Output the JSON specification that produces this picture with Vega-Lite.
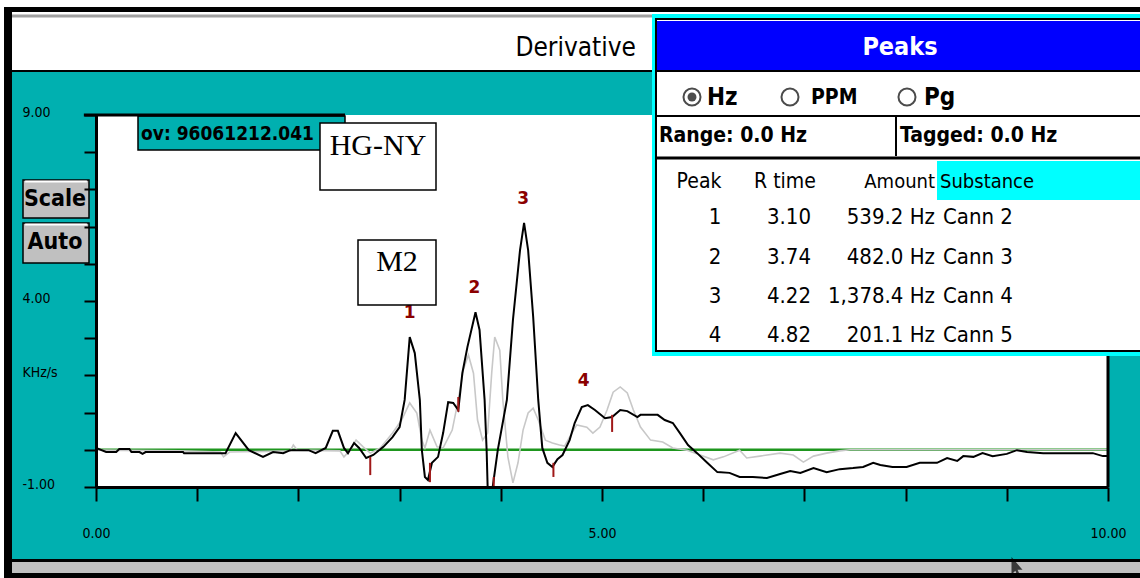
{
"$schema": "https://vega.github.io/schema/vega-lite/v6.json",
"width": 1012, "height": 372,
"autosize": {"type": "none"},
"padding": {"left": 96, "top": 115, "right": 32, "bottom": 91},
"background": "white",
"config": {"view": {"stroke": null}},
"datasets": {
 "peaks": [
  {"peak": 1, "rtime": 3.10, "amount": 539.2, "substance": "Cann 2", "apex": 3.03},
  {"peak": 2, "rtime": 3.74, "amount": 482.0, "substance": "Cann 3", "apex": 3.70},
  {"peak": 3, "rtime": 4.22, "amount": 1378.4, "substance": "Cann 4", "apex": 6.10},
  {"peak": 4, "rtime": 4.82, "amount": 201.1, "substance": "Cann 5", "apex": 1.20}
 ]
},
"data": {"values": [{}]},
"layer": [
  {"data": {"values": [{"t": 0, "v": -1}, {"t": 10, "v": 9}]},
   "mark": {"type": "point", "opacity": 0},
   "encoding": {
    "x": {"field": "t", "type": "quantitative", "scale": {"domain": [0, 10], "nice": false, "zero": false},
      "axis": {"title": null, "values": [0,1,2,3,4,5,6,7,8,9,10], "tickCount": 40, "grid": false, "zindex": 1, "tickSize": 14, "tickWidth": 2, "tickColor": "black", "domainColor": "black", "domainWidth": 3, "labelExpr": "datum.value==0?'0.00':datum.value==5?'5.00':datum.value==10?'10.00':''", "labelFont": "DejaVu Sans Condensed, sans-serif", "labelFontSize": 14, "labelColor": "black", "labelBaseline": "middle", "labelPadding": 32, "labelOverlap": false, "labelFlush": false}},
    "y": {"field": "v", "type": "quantitative", "scale": {"domain": [-1, 9], "nice": false, "zero": false},
      "axis": {"title": null, "values": [-1,0,1,2,3,4,5,6,7,8,9], "tickCount": 40, "grid": false, "zindex": 1, "tickSize": 12, "tickWidth": 2, "tickColor": "black", "domainColor": "black", "domainWidth": 3, "labelExpr": "datum.value==9?'9.00':datum.value==4?'4.00':datum.value==-1?'-1.00':datum.value==2?'KHz/s':''", "labelFont": "DejaVu Sans Condensed, sans-serif", "labelFontSize": 14, "labelColor": "black", "labelAlign": "left", "labelBaseline": "middle", "labelPadding": 62, "labelOverlap": false, "labelFlush": false, "labelOffset": -3}}
   }},
  {"mark": {"type": "rect", "fill": "black"}, "encoding": {"x": {"datum": -0.909}, "x2": {"datum": 10.4}, "y": {"datum": 11.903}, "y2": {"datum": 11.769}}},
  {"mark": {"type": "rect", "fill": "black"}, "encoding": {"x": {"datum": -0.909}, "x2": {"datum": -0.83}, "y": {"datum": 11.903}, "y2": {"datum": -3.6}}},
  {"mark": {"type": "rule", "color": "#a0a0a0", "strokeWidth": 3}, "encoding": {"x": {"datum": -0.83}, "x2": {"datum": 5.494}, "y": {"datum": 11.661}}},
  {"mark": {"type": "rule", "color": "black", "strokeWidth": 2}, "encoding": {"x": {"datum": -0.83}, "x2": {"datum": 5.494}, "y": {"datum": 10.183}}},
  {"mark": {"type": "rect", "fill": "#00b0b0"}, "encoding": {"x": {"datum": -0.83}, "x2": {"datum": 10.4}, "y": {"datum": 10.156}, "y2": {"datum": -2.962}}},
  {"mark": {"type": "rect", "fill": "black"}, "encoding": {"x": {"datum": -0.909}, "x2": {"datum": 10.4}, "y": {"datum": -2.935}, "y2": {"datum": -3.6}}},
  {"mark": {"type": "rect", "fill": "#c0c0c0"}, "encoding": {"x": {"datum": -0.83}, "x2": {"datum": 10.4}, "y": {"datum": -3.016}, "y2": {"datum": -3.312}}},
  {"mark": {"type": "rect", "fill": "white"}, "encoding": {"x": {"datum": 0}, "x2": {"datum": 10}, "y": {"datum": -1}, "y2": {"datum": 9}}},
  {"mark": {"type": "rule", "color": "#1e961e", "strokeWidth": 2.5}, "encoding": {"x": {"datum": 0}, "x2": {"datum": 10}, "y": {"datum": 0}}},
  {"data": {"values": [
   {"t":0,"v":-0.01},{"t":0.83,"v":-0.03},{"t":1.23,"v":-0.06},{"t":1.26,"v":-0.19},{"t":1.32,"v":-0.06},{"t":1.92,"v":-0.03},{"t":1.95,"v":0.13},{"t":1.99,"v":-0.01},{"t":2.41,"v":-0.03},{"t":2.45,"v":-0.19},{"t":2.51,"v":-0.01},{"t":2.57,"v":0.26},{"t":2.64,"v":0.08},{"t":2.71,"v":-0.09},{"t":2.81,"v":0.05},{"t":2.93,"v":0.45},{"t":3.02,"v":0.80},{"t":3.10,"v":1.26},{"t":3.17,"v":0.99},{"t":3.22,"v":0.26},{"t":3.25,"v":0.05},{"t":3.30,"v":0.53},{"t":3.37,"v":0.08},{"t":3.43,"v":0.05},{"t":3.52,"v":0.53},{"t":3.58,"v":1.34},{"t":3.63,"v":2.15},{"t":3.68,"v":2.55},{"t":3.73,"v":2.06},{"t":3.77,"v":0.80},{"t":3.82,"v":0.26},{"t":3.87,"v":0.45},{"t":3.91,"v":2.06},{"t":3.94,"v":3.03},{"t":3.99,"v":2.68},{"t":4.02,"v":1.34},{"t":4.07,"v":-0.19},{"t":4.12,"v":-0.89},{"t":4.17,"v":-0.35},{"t":4.22,"v":0.53},{"t":4.27,"v":0.99},{"t":4.32,"v":1.12},{"t":4.37,"v":0.80},{"t":4.44,"v":0.26},{"t":4.51,"v":0.18},{"t":4.58,"v":0.13},{"t":4.63,"v":0.10},{"t":4.68,"v":0.34},{"t":4.75,"v":0.67},{"t":4.85,"v":0.61},{"t":4.91,"v":0.45},{"t":4.98,"v":0.61},{"t":5.05,"v":1.07},{"t":5.11,"v":1.55},{"t":5.18,"v":1.69},{"t":5.25,"v":1.53},{"t":5.31,"v":1.07},{"t":5.38,"v":0.61},{"t":5.48,"v":0.26},{"t":5.60,"v":0.21},{"t":5.70,"v":0.05},{"t":5.84,"v":-0.01},{"t":5.97,"v":-0.14},{"t":6.10,"v":-0.27},{"t":6.20,"v":-0.19},{"t":6.36,"v":-0.01},{"t":6.43,"v":-0.22},{"t":6.56,"v":-0.17},{"t":6.76,"v":-0.09},{"t":6.89,"v":-0.14},{"t":6.99,"v":-0.33},{"t":7.09,"v":-0.17},{"t":7.22,"v":-0.09},{"t":7.35,"v":-0.03},{"t":7.45,"v":0.0},{"t":10,"v":0.0}
  ]},
   "mark": {"type": "line", "color": "#c8c8c8", "strokeWidth": 1.6},
   "encoding": {"x": {"field": "t", "type": "quantitative"}, "y": {"field": "v", "type": "quantitative"}}},
  {"data": {"values": [
   {"t":0,"v":0.05},{"t":0.10,"v":-0.06},{"t":0.20,"v":-0.06},{"t":0.23,"v":0.02},{"t":0.33,"v":0.02},{"t":0.35,"v":-0.06},{"t":0.43,"v":-0.06},{"t":0.46,"v":-0.11},{"t":0.49,"v":-0.06},{"t":0.86,"v":-0.06},{"t":0.87,"v":-0.09},{"t":1.28,"v":-0.09},{"t":1.38,"v":0.45},{"t":1.51,"v":-0.01},{"t":1.65,"v":-0.19},{"t":1.75,"v":-0.06},{"t":1.85,"v":-0.09},{"t":1.92,"v":-0.01},{"t":2.10,"v":-0.01},{"t":2.17,"v":-0.09},{"t":2.27,"v":0.05},{"t":2.34,"v":0.51},{"t":2.39,"v":0.51},{"t":2.45,"v":0.05},{"t":2.49,"v":-0.09},{"t":2.55,"v":0.18},{"t":2.60,"v":0.05},{"t":2.67,"v":-0.22},{"t":2.74,"v":-0.14},{"t":2.84,"v":0.08},{"t":2.93,"v":0.34},{"t":3.00,"v":0.61},{"t":3.05,"v":1.34},{"t":3.10,"v":3.03},{"t":3.15,"v":2.60},{"t":3.20,"v":1.34},{"t":3.22,"v":-0.01},{"t":3.25,"v":-0.73},{"t":3.28,"v":-0.81},{"t":3.32,"v":-0.35},{"t":3.38,"v":-0.19},{"t":3.43,"v":0.45},{"t":3.48,"v":1.28},{"t":3.53,"v":1.26},{"t":3.58,"v":1.07},{"t":3.62,"v":2.06},{"t":3.67,"v":2.76},{"t":3.75,"v":3.70},{"t":3.79,"v":3.22},{"t":3.84,"v":1.34},{"t":3.86,"v":-0.01},{"t":3.87,"v":-1.0},{"t":3.92,"v":-1.0},{"t":3.97,"v":-0.01},{"t":4.06,"v":1.34},{"t":4.12,"v":3.49},{"t":4.19,"v":5.37},{"t":4.23,"v":6.10},{"t":4.27,"v":5.37},{"t":4.32,"v":3.57},{"t":4.37,"v":1.34},{"t":4.41,"v":0.05},{"t":4.46,"v":-0.35},{"t":4.51,"v":-0.46},{"t":4.56,"v":-0.25},{"t":4.61,"v":-0.14},{"t":4.68,"v":0.26},{"t":4.73,"v":0.72},{"t":4.80,"v":1.15},{"t":4.86,"v":1.20},{"t":4.93,"v":1.07},{"t":5.03,"v":0.85},{"t":5.10,"v":0.88},{"t":5.18,"v":1.07},{"t":5.25,"v":1.04},{"t":5.35,"v":0.88},{"t":5.38,"v":0.94},{"t":5.55,"v":0.94},{"t":5.62,"v":0.80},{"t":5.70,"v":0.72},{"t":5.77,"v":0.45},{"t":5.85,"v":0.13},{"t":5.94,"v":-0.09},{"t":6.04,"v":-0.35},{"t":6.14,"v":-0.60},{"t":6.26,"v":-0.62},{"t":6.36,"v":-0.73},{"t":6.49,"v":-0.73},{"t":6.63,"v":-0.76},{"t":6.76,"v":-0.65},{"t":6.86,"v":-0.57},{"t":6.96,"v":-0.62},{"t":7.09,"v":-0.49},{"t":7.22,"v":-0.60},{"t":7.35,"v":-0.52},{"t":7.48,"v":-0.49},{"t":7.58,"v":-0.46},{"t":7.68,"v":-0.35},{"t":7.75,"v":-0.41},{"t":7.87,"v":-0.46},{"t":8.01,"v":-0.46},{"t":8.14,"v":-0.35},{"t":8.31,"v":-0.35},{"t":8.41,"v":-0.22},{"t":8.51,"v":-0.30},{"t":8.57,"v":-0.17},{"t":8.67,"v":-0.19},{"t":8.76,"v":-0.09},{"t":8.86,"v":-0.17},{"t":9.00,"v":-0.11},{"t":9.10,"v":-0.01},{"t":9.20,"v":-0.06},{"t":9.36,"v":-0.09},{"t":9.85,"v":-0.09},{"t":9.95,"v":-0.17},{"t":10.0,"v":-0.17}
  ]},
   "mark": {"type": "line", "color": "black", "strokeWidth": 2},
   "encoding": {"x": {"field": "t", "type": "quantitative"}, "y": {"field": "v", "type": "quantitative"}}},
  {"data": {"values": [
   {"t":2.71,"lo":-0.68,"hi":-0.19},{"t":3.30,"lo":-0.87,"hi":-0.35},{"t":3.58,"lo":1.02,"hi":1.42},{"t":3.93,"lo":-1.0,"hi":-0.73},{"t":4.52,"lo":-0.73,"hi":-0.35},{"t":5.10,"lo":0.48,"hi":0.94}
  ]},
   "mark": {"type": "rule", "color": "#a01818", "strokeWidth": 2},
   "encoding": {"x": {"field": "t", "type": "quantitative"}, "y": {"field": "lo", "type": "quantitative"}, "y2": {"field": "hi"}}},
  {"data": {"name": "peaks"},
   "mark": {"type": "text", "color": "#8b0000", "font": "DejaVu Sans", "fontSize": 17, "fontWeight": "bold", "dy": -24, "baseline": "middle", "align": "center"},
   "encoding": {"x": {"field": "rtime", "type": "quantitative"}, "y": {"field": "apex", "type": "quantitative"}, "text": {"field": "peak", "type": "quantitative"}}},
  {"mark": {"type": "rule", "color": "black", "strokeWidth": 3}, "encoding": {"x": {"datum": 10}, "y": {"datum": -1}, "y2": {"datum": 9}}},
  {"mark": {"type": "rect", "fill": "#00b0b0", "stroke": "black", "strokeWidth": 1.5}, "encoding": {"x": {"datum": 0.415}, "x2": {"datum": 2.4605}, "y": {"datum": 8.973}, "y2": {"datum": 8.059}}},
  {"mark": {"type": "rule", "color": "black", "strokeWidth": 3}, "encoding": {"x": {"datum": -0.12}, "x2": {"datum": 2.4605}, "y": {"datum": 9}}},
  {"mark": {"type": "text", "text": "ov: 96061212.041", "font": "DejaVu Sans Condensed, sans-serif", "fontSize": 19, "fontWeight": "bold", "align": "left", "baseline": "middle", "color": "black"}, "encoding": {"x": {"datum": 0.4447}, "y": {"datum": 8.489}}},
  {"mark": {"type": "rect", "fill": "white", "stroke": "black", "strokeWidth": 1.5}, "encoding": {"x": {"datum": 2.2134}, "x2": {"datum": 3.3597}, "y": {"datum": 8.785}, "y2": {"datum": 6.984}}},
  {"mark": {"type": "text", "text": "HG-NY", "font": "Liberation Serif", "fontSize": 30, "align": "center", "baseline": "middle", "color": "black"}, "encoding": {"x": {"datum": 2.7866}, "y": {"datum": 8.167}}},
  {"mark": {"type": "rect", "fill": "white", "stroke": "black", "strokeWidth": 1.5}, "encoding": {"x": {"datum": 2.5889}, "x2": {"datum": 3.3597}, "y": {"datum": 5.6398}, "y2": {"datum": 3.8925}}},
  {"mark": {"type": "text", "text": "M2", "font": "Liberation Serif", "fontSize": 30, "align": "center", "baseline": "middle", "color": "black"}, "encoding": {"x": {"datum": 2.9743}, "y": {"datum": 5.048}}},
  {"mark": {"type": "rect", "fill": "#c0c0c0", "stroke": "black", "strokeWidth": 1.5}, "encoding": {"x": {"datum": -0.7213}, "x2": {"datum": -0.0692}, "y": {"datum": 7.2527}, "y2": {"datum": 6.2312}}},
  {"mark": {"type": "rule", "color": "white", "strokeWidth": 2}, "encoding": {"x": {"datum": -0.70}, "x2": {"datum": -0.09}, "y": {"datum": 7.21}}},
  {"mark": {"type": "text", "text": "Scale", "font": "DejaVu Sans Condensed, sans-serif", "fontSize": 23, "fontWeight": "bold", "align": "center", "baseline": "middle", "color": "black"}, "encoding": {"x": {"datum": -0.4051}, "y": {"datum": 6.7419}}},
  {"mark": {"type": "rect", "fill": "#c0c0c0", "stroke": "black", "strokeWidth": 1.5}, "encoding": {"x": {"datum": -0.7213}, "x2": {"datum": -0.0692}, "y": {"datum": 6.0968}, "y2": {"datum": 5.0215}}},
  {"mark": {"type": "rule", "color": "white", "strokeWidth": 2}, "encoding": {"x": {"datum": -0.70}, "x2": {"datum": -0.09}, "y": {"datum": 6.055}}},
  {"mark": {"type": "text", "text": "Auto", "font": "DejaVu Sans Condensed, sans-serif", "fontSize": 23, "fontWeight": "bold", "align": "center", "baseline": "middle", "color": "black"}, "encoding": {"x": {"datum": -0.4051}, "y": {"datum": 5.586}}},
  {"mark": {"type": "text", "text": "Derivative", "font": "DejaVu Sans Condensed, sans-serif", "fontSize": 26, "align": "right", "baseline": "middle", "color": "black"}, "encoding": {"x": {"datum": 5.336}, "y": {"datum": 10.801}}},
  {"mark": {"type": "rect", "fill": "#00ffff"}, "encoding": {"x": {"datum": 5.4941}, "x2": {"datum": 10.4}, "y": {"datum": 11.7151}, "y2": {"datum": 2.5215}}},
  {"mark": {"type": "rect", "fill": "white", "stroke": "black", "strokeWidth": 2}, "encoding": {"x": {"datum": 5.5336}, "x2": {"datum": 10.4}, "y": {"datum": 11.5806}, "y2": {"datum": 2.6559}}},
  {"mark": {"type": "rect", "fill": "#0000ff"}, "encoding": {"x": {"datum": 5.5435}, "x2": {"datum": 10.4}, "y": {"datum": 11.5269}, "y2": {"datum": 10.2097}}},
  {"mark": {"type": "rule", "color": "black", "strokeWidth": 2}, "encoding": {"x": {"datum": 5.5336}, "x2": {"datum": 10.4}, "y": {"datum": 10.183}}},
  {"mark": {"type": "text", "text": "Peaks", "font": "DejaVu Sans Condensed, sans-serif", "fontSize": 25, "fontWeight": "bold", "align": "center", "baseline": "middle", "color": "white"}, "encoding": {"x": {"datum": 7.9447}, "y": {"datum": 10.828}}},
  {"mark": {"type": "point", "shape": "circle", "size": 290, "filled": true, "fill": "white", "stroke": "black", "strokeWidth": 2}, "encoding": {"x": {"datum": 5.8893}, "y": {"datum": 9.4839}}},
  {"mark": {"type": "point", "shape": "circle", "size": 80, "filled": true, "color": "black"}, "encoding": {"x": {"datum": 5.8893}, "y": {"datum": 9.4839}}},
  {"mark": {"type": "point", "shape": "circle", "size": 290, "filled": true, "fill": "white", "stroke": "black", "strokeWidth": 2}, "encoding": {"x": {"datum": 6.8577}, "y": {"datum": 9.4839}}},
  {"mark": {"type": "point", "shape": "circle", "size": 290, "filled": true, "fill": "white", "stroke": "black", "strokeWidth": 2}, "encoding": {"x": {"datum": 8.0138}, "y": {"datum": 9.4839}}},
  {"mark": {"type": "text", "text": "Hz", "font": "DejaVu Sans Condensed, sans-serif", "fontSize": 24, "fontWeight": "bold", "align": "left", "baseline": "middle", "color": "black"}, "encoding": {"x": {"datum": 6.0375}, "y": {"datum": 9.457}}},
  {"mark": {"type": "text", "text": "PPM", "font": "DejaVu Sans Condensed, sans-serif", "fontSize": 21, "fontWeight": "bold", "align": "left", "baseline": "middle", "color": "black"}, "encoding": {"x": {"datum": 7.0652}, "y": {"datum": 9.457}}},
  {"mark": {"type": "text", "text": "Pg", "font": "DejaVu Sans Condensed, sans-serif", "fontSize": 24, "fontWeight": "bold", "align": "left", "baseline": "middle", "color": "black"}, "encoding": {"x": {"datum": 8.1818}, "y": {"datum": 9.457}}},
  {"mark": {"type": "rule", "color": "black", "strokeWidth": 2}, "encoding": {"x": {"datum": 5.5336}, "x2": {"datum": 10.4}, "y": {"datum": 8.9731}}},
  {"mark": {"type": "text", "text": "Range: 0.0 Hz", "font": "DejaVu Sans Condensed, sans-serif", "fontSize": 21, "fontWeight": "bold", "align": "left", "baseline": "middle", "color": "black"}, "encoding": {"x": {"datum": 5.5632}, "y": {"datum": 8.4355}}},
  {"mark": {"type": "rule", "color": "black", "strokeWidth": 2}, "encoding": {"x": {"datum": 7.9051}, "y": {"datum": 8.9731}, "y2": {"datum": 7.8978}}},
  {"mark": {"type": "text", "text": "Tagged: 0.0 Hz", "font": "DejaVu Sans Condensed, sans-serif", "fontSize": 21, "fontWeight": "bold", "align": "left", "baseline": "middle", "color": "black"}, "encoding": {"x": {"datum": 7.9447}, "y": {"datum": 8.4355}}},
  {"mark": {"type": "rule", "color": "black", "strokeWidth": 3}, "encoding": {"x": {"datum": 5.5336}, "x2": {"datum": 10.4}, "y": {"datum": 7.8441}}},
  {"mark": {"type": "rect", "fill": "#00ffff"}, "encoding": {"x": {"datum": 8.3103}, "x2": {"datum": 10.4}, "y": {"datum": 7.7634}, "y2": {"datum": 6.7151}}},
  {"mark": {"type": "text", "text": "Peak", "font": "DejaVu Sans Condensed, sans-serif", "fontSize": 21, "align": "center", "baseline": "middle", "color": "black"}, "encoding": {"x": {"datum": 5.9585}, "y": {"datum": 7.1989}}},
  {"mark": {"type": "text", "text": "R time", "font": "DejaVu Sans Condensed, sans-serif", "fontSize": 21, "align": "center", "baseline": "middle", "color": "black"}, "encoding": {"x": {"datum": 6.8083}, "y": {"datum": 7.1989}}},
  {"mark": {"type": "text", "text": "Amount", "font": "DejaVu Sans Condensed, sans-serif", "fontSize": 20, "align": "right", "baseline": "middle", "color": "black"}, "encoding": {"x": {"datum": 8.2905}, "y": {"datum": 7.1989}}},
  {"mark": {"type": "text", "text": "Substance", "font": "DejaVu Sans Condensed, sans-serif", "fontSize": 20, "align": "left", "baseline": "middle", "color": "black"}, "encoding": {"x": {"datum": 8.3399}, "y": {"datum": 7.1989}}},

  {"data": {"name": "peaks"}, "transform": [{"filter": "datum.peak == 1"}], "mark": {"type": "text", "font": "DejaVu Sans Condensed, sans-serif", "fontSize": 22, "align": "center", "baseline": "middle", "color": "black"}, "encoding": {"x": {"datum": 6.117}, "y": {"datum": 6.258}, "text": {"field": "peak", "type": "quantitative"}}},
  {"data": {"name": "peaks"}, "transform": [{"filter": "datum.peak == 1"}], "mark": {"type": "text", "font": "DejaVu Sans Condensed, sans-serif", "fontSize": 22, "align": "right", "baseline": "middle", "color": "black"}, "encoding": {"x": {"datum": 7.0652}, "y": {"datum": 6.258}, "text": {"field": "rtime", "type": "quantitative", "format": ".2f"}}},
  {"data": {"name": "peaks"}, "transform": [{"filter": "datum.peak == 1"}, {"calculate": "format(datum.amount, ',.1f') + ' Hz'", "as": "amountLabel"}], "mark": {"type": "text", "font": "DejaVu Sans Condensed, sans-serif", "fontSize": 22, "align": "right", "baseline": "middle", "color": "black"}, "encoding": {"x": {"datum": 8.2905}, "y": {"datum": 6.258}, "text": {"field": "amountLabel", "type": "nominal"}}},
  {"data": {"name": "peaks"}, "transform": [{"filter": "datum.peak == 1"}], "mark": {"type": "text", "font": "DejaVu Sans Condensed, sans-serif", "fontSize": 22, "align": "left", "baseline": "middle", "color": "black"}, "encoding": {"x": {"datum": 8.3696}, "y": {"datum": 6.258}, "text": {"field": "substance", "type": "nominal"}}},

  {"data": {"name": "peaks"}, "transform": [{"filter": "datum.peak == 2"}], "mark": {"type": "text", "font": "DejaVu Sans Condensed, sans-serif", "fontSize": 22, "align": "center", "baseline": "middle", "color": "black"}, "encoding": {"x": {"datum": 6.117}, "y": {"datum": 5.183}, "text": {"field": "peak", "type": "quantitative"}}},
  {"data": {"name": "peaks"}, "transform": [{"filter": "datum.peak == 2"}], "mark": {"type": "text", "font": "DejaVu Sans Condensed, sans-serif", "fontSize": 22, "align": "right", "baseline": "middle", "color": "black"}, "encoding": {"x": {"datum": 7.0652}, "y": {"datum": 5.183}, "text": {"field": "rtime", "type": "quantitative", "format": ".2f"}}},
  {"data": {"name": "peaks"}, "transform": [{"filter": "datum.peak == 2"}, {"calculate": "format(datum.amount, ',.1f') + ' Hz'", "as": "amountLabel"}], "mark": {"type": "text", "font": "DejaVu Sans Condensed, sans-serif", "fontSize": 22, "align": "right", "baseline": "middle", "color": "black"}, "encoding": {"x": {"datum": 8.2905}, "y": {"datum": 5.183}, "text": {"field": "amountLabel", "type": "nominal"}}},
  {"data": {"name": "peaks"}, "transform": [{"filter": "datum.peak == 2"}], "mark": {"type": "text", "font": "DejaVu Sans Condensed, sans-serif", "fontSize": 22, "align": "left", "baseline": "middle", "color": "black"}, "encoding": {"x": {"datum": 8.3696}, "y": {"datum": 5.183}, "text": {"field": "substance", "type": "nominal"}}},

  {"data": {"name": "peaks"}, "transform": [{"filter": "datum.peak == 3"}], "mark": {"type": "text", "font": "DejaVu Sans Condensed, sans-serif", "fontSize": 22, "align": "center", "baseline": "middle", "color": "black"}, "encoding": {"x": {"datum": 6.117}, "y": {"datum": 4.134}, "text": {"field": "peak", "type": "quantitative"}}},
  {"data": {"name": "peaks"}, "transform": [{"filter": "datum.peak == 3"}], "mark": {"type": "text", "font": "DejaVu Sans Condensed, sans-serif", "fontSize": 22, "align": "right", "baseline": "middle", "color": "black"}, "encoding": {"x": {"datum": 7.0652}, "y": {"datum": 4.134}, "text": {"field": "rtime", "type": "quantitative", "format": ".2f"}}},
  {"data": {"name": "peaks"}, "transform": [{"filter": "datum.peak == 3"}, {"calculate": "format(datum.amount, ',.1f') + ' Hz'", "as": "amountLabel"}], "mark": {"type": "text", "font": "DejaVu Sans Condensed, sans-serif", "fontSize": 22, "align": "right", "baseline": "middle", "color": "black"}, "encoding": {"x": {"datum": 8.2905}, "y": {"datum": 4.134}, "text": {"field": "amountLabel", "type": "nominal"}}},
  {"data": {"name": "peaks"}, "transform": [{"filter": "datum.peak == 3"}], "mark": {"type": "text", "font": "DejaVu Sans Condensed, sans-serif", "fontSize": 22, "align": "left", "baseline": "middle", "color": "black"}, "encoding": {"x": {"datum": 8.3696}, "y": {"datum": 4.134}, "text": {"field": "substance", "type": "nominal"}}},

  {"data": {"name": "peaks"}, "transform": [{"filter": "datum.peak == 4"}], "mark": {"type": "text", "font": "DejaVu Sans Condensed, sans-serif", "fontSize": 22, "align": "center", "baseline": "middle", "color": "black"}, "encoding": {"x": {"datum": 6.117}, "y": {"datum": 3.086}, "text": {"field": "peak", "type": "quantitative"}}},
  {"data": {"name": "peaks"}, "transform": [{"filter": "datum.peak == 4"}], "mark": {"type": "text", "font": "DejaVu Sans Condensed, sans-serif", "fontSize": 22, "align": "right", "baseline": "middle", "color": "black"}, "encoding": {"x": {"datum": 7.0652}, "y": {"datum": 3.086}, "text": {"field": "rtime", "type": "quantitative", "format": ".2f"}}},
  {"data": {"name": "peaks"}, "transform": [{"filter": "datum.peak == 4"}, {"calculate": "format(datum.amount, ',.1f') + ' Hz'", "as": "amountLabel"}], "mark": {"type": "text", "font": "DejaVu Sans Condensed, sans-serif", "fontSize": 22, "align": "right", "baseline": "middle", "color": "black"}, "encoding": {"x": {"datum": 8.2905}, "y": {"datum": 3.086}, "text": {"field": "amountLabel", "type": "nominal"}}},
  {"data": {"name": "peaks"}, "transform": [{"filter": "datum.peak == 4"}], "mark": {"type": "text", "font": "DejaVu Sans Condensed, sans-serif", "fontSize": 22, "align": "left", "baseline": "middle", "color": "black"}, "encoding": {"x": {"datum": 8.3696}, "y": {"datum": 3.086}, "text": {"field": "substance", "type": "nominal"}}},

  {"mark": {"type": "point", "shape": "M-0.5,-1 L-0.5,0.6 L-0.15,0.25 L0.15,0.95 L0.35,0.85 L0.05,0.15 L0.5,0.15 Z", "size": 484, "filled": true, "color": "black"}, "encoding": {"x": {"datum": 9.1008}, "y": {"datum": -3.177}}}
]
}
